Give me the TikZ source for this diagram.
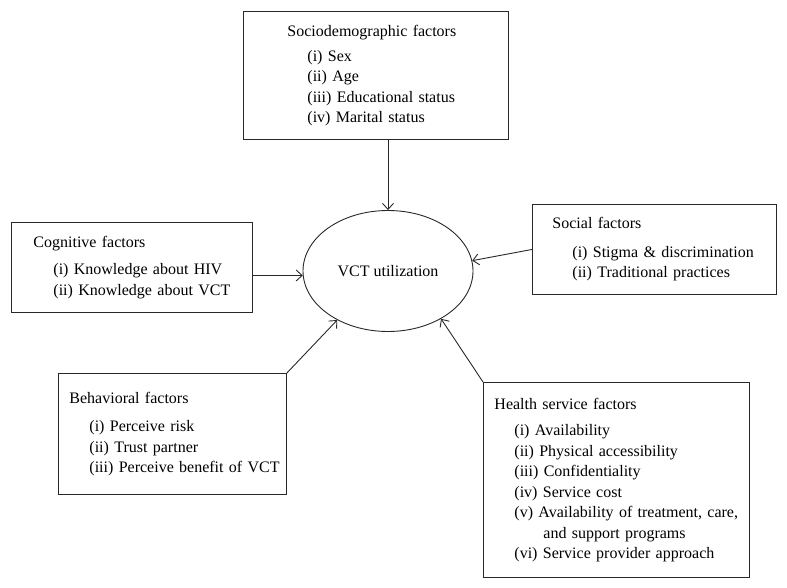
\documentclass[tikz,border=0pt]{standalone}
\usepackage{fontspec}
\setmainfont{Liberation Serif}
\usepackage{tikz}
\usetikzlibrary{arrows.meta, shapes.geometric, positioning}
\definecolor{LineGray}{RGB}{40,40,40}
\newcommand{\itm}[1]{\hspace*{20pt}\mbox{#1}}

\begin{document}
\begin{tikzpicture}[x=10pt, y=-10pt,
	font=\fontsize{16}{20.5}\selectfont,
	fl/.style={-{Straight Barb[length=6pt, width=11pt]}, line width=0.9pt, LineGray},
	fbox/.style={rectangle, draw=LineGray, line width=0.9pt, anchor=north west, align=left, inner ysep=0pt},
	util/.style={ellipse, draw=LineGray, line width=0.9pt, minimum width=170pt, minimum height=121pt, inner sep=0pt}]

	\useasboundingbox (0,0) rectangle (78.7,58.8);

	% ---------- centro ----------
	\node[util] (vct) at (38.8,27.1) {VCT utilization};

	% ---------- factores ----------
	\node[fbox, text width=177pt, inner xsep=44pt, minimum height=128pt] (socio) at (24.3,1.1)
		{Sociodemographic factors\\[4.5pt]
		 \itm{(i) Sex}\\ \itm{(ii) Age}\\ \itm{(iii) Educational status}\\ \itm{(iv) Marital status}};
	\node[fbox, text width=197pt, inner xsep=22pt, minimum height=90pt] (cog) at (1.1,22.2)
		{Cognitive factors\\[7pt]
		 \itm{(i) Knowledge about HIV}\\ \itm{(ii) Knowledge about VCT}};
	\node[fbox, text width=204pt, inner xsep=20pt, minimum height=90pt] (social) at (53.2,20.4)
		{Social factors\\[8pt]
		 \itm{(i) Stigma \& discrimination}\\ \itm{(ii) Traditional practices}};
	\node[fbox, text width=206pt, inner xsep=11pt, minimum height=121pt] (behav) at (5.8,37.3)
		{Behavioral factors\\[8pt]
		 \itm{(i) Perceive risk}\\ \itm{(ii) Trust partner}\\ \itm{(iii) Perceive benefit of VCT}};
	\node[fbox, text width=244pt, inner xsep=11pt, minimum height=195pt] (health) at (48.3,38.2)
		{Health service factors\\[6pt]
		 \itm{(i) Availability}\\ \itm{(ii) Physical accessibility}\\ \itm{(iii) Confidentiality}\\
		 \itm{(iv) Service cost}\\ \itm{(v) Availability of treatment, care,}\\
		 \hspace*{49pt}and support programs\\ \itm{(vi) Service provider approach}};

	% ---------- flechas ----------
	\draw[fl] (socio.south -| vct.north) -- (vct.north);
	\draw[fl] (vct.183 -| cog.east) -- (vct.183);
	\draw[fl] (social.west) -- (vct.7);
	\draw[fl] (behav.north east) -- (vct.224);
	\draw[fl] (health.north west) -- (vct.318);
\end{tikzpicture}
\end{document}
